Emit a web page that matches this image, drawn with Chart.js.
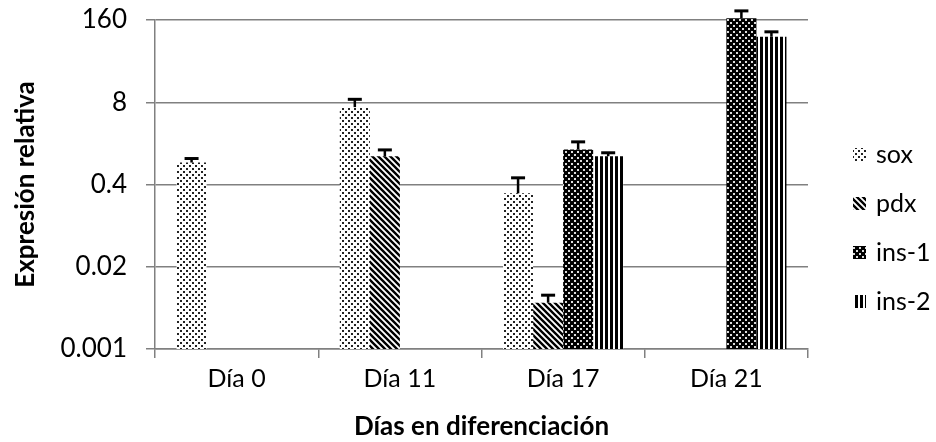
<!DOCTYPE html>
<html>
<head>
<meta charset="utf-8">
<script src="https://cdn.jsdelivr.net/npm/chart.js@4.4.0/dist/chart.umd.min.js"></script>
<style>
  body { margin: 0; background: #fff; }
  #chart { display: block; }
</style>
</head>
<body>
<canvas id="chart" width="936" height="442"></canvas>
<script>
const categories = ['Día 0', 'Día 11', 'Día 17', 'Día 21'];
const yTicks = [0.001, 0.02, 0.4, 8, 160];

const seriesNames = ['sox', 'pdx', 'ins-1', 'ins-2'];
const sox = [0.89, 6.7, 0.29, null];
const soxErr = [0.14, 2.2, 0.22, null];
const pdx = [null, 1.12, 0.0054, null];
const pdxErr = [null, 0.29, 0.0017, null];
const ins1 = [null, null, 1.43, 170];
const ins1Err = [null, null, 0.46, 53];
const ins2 = [null, null, 1.12, 87];
const ins2Err = [null, null, 0.15, 17];

// fill patterns, drawn on small tiles
function makePattern(w, h, draw) {
  const c = document.createElement('canvas');
  c.width = w;
  c.height = h;
  const g = c.getContext('2d');
  draw(g, w, h);
  return g.createPattern(c, 'repeat');
}

const ctx = document.getElementById('chart').getContext('2d');

const soxFill = makePattern(6, 6, (g) => {
  g.fillStyle = '#fff'; g.fillRect(0, 0, 6, 6);
  g.fillStyle = '#222';
  g.fillRect(0, 0, 2, 2);
  g.fillRect(3, 3, 2, 2);
});
const pdxFill = makePattern(6, 6, (g) => {
  g.fillStyle = '#fff'; g.fillRect(0, 0, 6, 6);
  g.strokeStyle = '#000'; g.lineWidth = 2.4;
  g.beginPath();
  g.moveTo(-1, -1); g.lineTo(7, 7);
  g.moveTo(-7, -1); g.lineTo(1, 7);
  g.moveTo(5, -1); g.lineTo(13, 7);
  g.stroke();
});
const ins1Fill = makePattern(6, 6, (g) => {
  g.fillStyle = '#000'; g.fillRect(0, 0, 6, 6);
  g.fillStyle = '#ddd';
  g.fillRect(1, 1, 2, 2);
  g.fillRect(4, 4, 2, 2);
});
const ins2Fill = makePattern(5, 4, (g) => {
  g.fillStyle = '#fff'; g.fillRect(0, 0, 5, 4);
  g.fillStyle = '#000'; g.fillRect(0, 0, 3, 4);
});

const errors = [soxErr, pdxErr, ins1Err, ins2Err];

const errorBars = {
  id: 'errorBars',
  afterDatasetsDraw(chart) {
    const c = chart.ctx;
    const yScale = chart.scales.y;
    c.save();
    c.strokeStyle = '#000';
    chart.data.datasets.forEach((ds, i) => {
      const meta = chart.getDatasetMeta(i);
      meta.data.forEach((bar, j) => {
        const v = ds.data[j];
        const e = errors[i][j];
        if (v == null || e == null) return;
        const yTop = yScale.getPixelForValue(v + e);
        c.lineWidth = 2.5;
        c.beginPath();
        c.moveTo(bar.x, bar.y);
        c.lineTo(bar.x, yTop);
        c.stroke();
        c.lineWidth = 3;
        c.beginPath();
        c.moveTo(bar.x - 7, yTop);
        c.lineTo(bar.x + 7, yTop);
        c.stroke();
      });
    });
    c.restore();
  }
};

// legend on the right, drawn by hand so the plot keeps its width
const sideLegend = {
  id: 'sideLegend',
  afterDraw(chart) {
    const c = chart.ctx;
    const x = chart.chartArea.right + 45;
    const y0 = 154;
    const step = 49;
    c.save();
    c.font = '25px Lato';
    c.textBaseline = 'middle';
    c.fillStyle = '#000';
    chart.data.datasets.forEach((ds, i) => {
      const y = y0 + i * step;
      c.fillStyle = ds.backgroundColor;
      c.fillRect(x, y - 6, 13, 13);
      c.fillStyle = '#000';
      c.fillText(ds.label, x + 23, y + 1);
    });
    c.restore();
  }
};

const fills = [soxFill, pdxFill, ins1Fill, ins2Fill];
const values = [sox, pdx, ins1, ins2];

new Chart(ctx, {
  type: 'bar',
  data: {
    labels: categories,
    datasets: seriesNames.map((name, i) => ({
      label: name,
      data: values[i],
      backgroundColor: fills[i],
      borderWidth: 0,
      clip: false,
      categoryPercentage: 0.736,
      barPercentage: 1
    }))
  },
  options: {
    responsive: false,
    animation: false,
    layout: { padding: { top: 20, right: 128, bottom: 0, left: 0 } },
    plugins: {
      tooltip: { enabled: false },
      legend: { display: false }
    },
    scales: {
      x: {
        grid: {
          offset: true,
          drawOnChartArea: false,
          color: '#808080',
          tickLength: 9,
          lineWidth: 1.5
        },
        border: { color: '#808080', width: 1.5 },
        ticks: {
          color: '#000',
          font: { family: 'Lato', size: 25 },
          padding: 6
        },
        title: {
          display: true,
          text: 'Días en diferenciación',
          color: '#000',
          font: { family: 'Lato', size: 26, weight: 'bold' },
          padding: { top: 9, bottom: 0 }
        },
        afterFit(scale) { scale.height = 93; }
      },
      y: {
        type: 'logarithmic',
        min: 0.001,
        max: 160,
        afterBuildTicks(scale) {
          scale.ticks = yTicks.map(v => ({ value: v }));
        },
        afterFit(scale) {
          scale.width = 155;
          scale.paddingTop = 0;
          scale.paddingBottom = 0;
        },
        grid: {
          color: '#808080',
          lineWidth: 1.5,
          tickLength: 9
        },
        border: { color: '#808080', width: 1.5 },
        ticks: {
          color: '#000',
          font: { family: 'Lato', size: 26 },
          padding: 19,
          autoSkip: false,
          callback: (v) => String(v)
        },
        title: {
          display: true,
          text: 'Expresión relativa',
          color: '#000',
          font: { family: 'Lato', size: 26, weight: 'bold' },
          padding: { top: 10, bottom: 0 }
        }
      }
    }
  },
  plugins: [errorBars, sideLegend]
});
</script>
</body>
</html>
